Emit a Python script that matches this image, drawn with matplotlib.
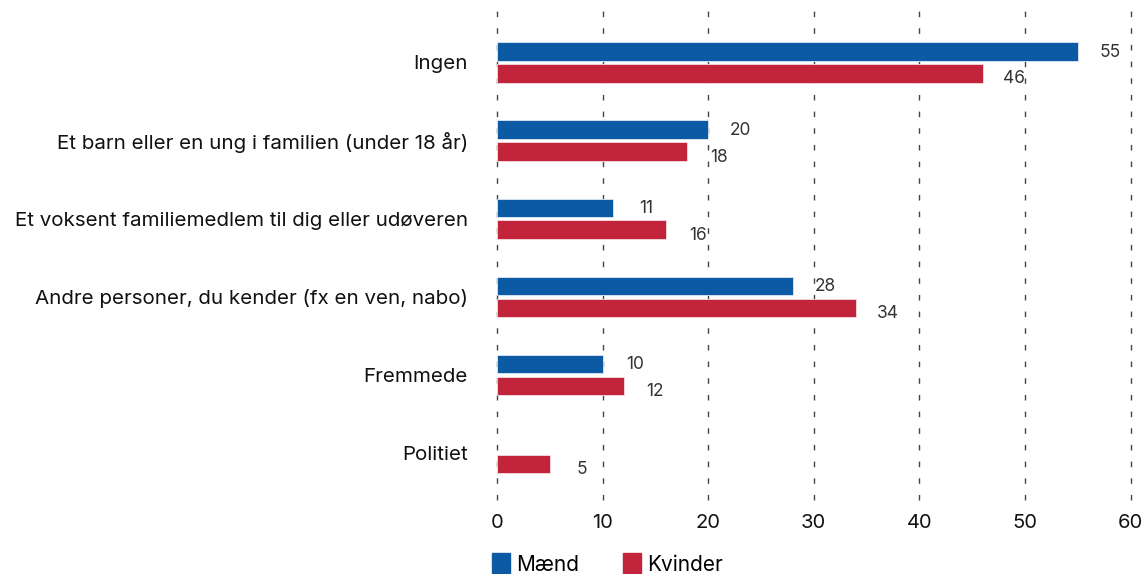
import matplotlib.pyplot as plt
import numpy as np

categories = ['Ingen', 'Et barn eller en ung i familien (under 18 år)',
              'Et voksent familiemedlem til dig eller udøveren',
              'Andre personer, du kender (fx en ven, nabo)', 'Fremmede', 'Politiet']
maend = [55, 20, 11, 28, 10, None]
kvinder = [46, 18, 16, 34, 12, 5]

blue = '#0C5AA4'
red = '#C1243B'

plt.rcParams['font.family'] = ['Inter', 'DejaVu Sans']

fig = plt.figure(figsize=(11.46, 5.74), dpi=100)
ax = fig.add_axes([0.4337, 0.129, 0.9865 - 0.4337, 0.871])

y = np.arange(len(categories))
h = 0.235
off = 0.14

for i, (m, k) in enumerate(zip(maend, kvinder)):
    if m is not None:
        ax.barh(y[i] - off, m, height=h, color=blue, edgecolor='#dfe8f3', linewidth=0.6, zorder=3)
        ax.text(m + 3.1, y[i] - off + 0.01, str(m), ha='center', va='center',
                fontsize=12.5, color='#333333', zorder=4)
    ax.barh(y[i] + off, k, height=h, color=red, edgecolor='#f3dde0', linewidth=0.6, zorder=3)
    ax.text(k + 3.0, y[i] + off + 0.07, str(k), ha='center', va='center',
            fontsize=12.5, color='#333333', zorder=4)

ax.set_xlim(0, 60)
ax.set_ylim(5.6, -0.8)
ax.set_xticks(range(0, 61, 10))
ax.set_yticks(y)
ax.set_yticklabels(categories, fontsize=14.8, color='#111111')
ax.tick_params(axis='y', length=0, pad=21)
ax.tick_params(axis='x', length=0, pad=10, labelsize=14.5, labelcolor='#111111')
ax.grid(axis='x', color='#444444', linestyle=(0, (4, 8)), linewidth=1.0, zorder=0)
for gl in ax.get_xgridlines():
    gl.set_clip_on(False)
for s in ax.spines.values():
    s.set_visible(False)

handles = [plt.Rectangle((0, 0), 1, 1, color=blue), plt.Rectangle((0, 0), 1, 1, color=red)]
fig.legend(handles, ['Mænd', 'Kvinder'], loc='lower left', bbox_to_anchor=(0.413, -0.035),
           ncol=2, frameon=False, fontsize=15, handlelength=0.87, handleheight=1.3,
           handletextpad=0.29, columnspacing=2.1)

fig.savefig('out.png', dpi=100)
